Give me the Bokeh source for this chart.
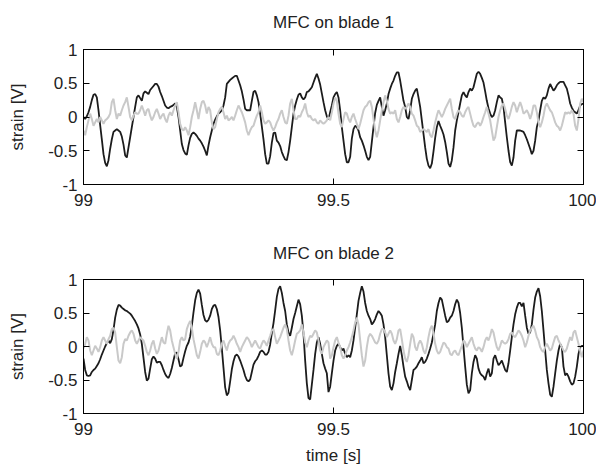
import numpy as np
from bokeh.plotting import figure
from bokeh.layouts import column
from bokeh.models import Range1d, FixedTicker, LinearAxis
from bokeh.embed import file_html
from bokeh.resources import INLINE

# ---------------- data ----------------
# sampling grid: 301 samples between 99 s and 100 s
time_s = np.linspace(99.0, 100.0, 301)

blade1_dark = [
    0.00, -0.03, 0.01, 0.07, 0.15, 0.25, 0.33, 0.34, 0.29, 0.10,
    -0.12, -0.33, -0.55, -0.68, -0.73, -0.64, -0.47, -0.33, -0.22, -0.20,
    -0.18, -0.20, -0.22, -0.29, -0.41, -0.57, -0.60, -0.45, -0.30, -0.15,
    0.00, 0.15, 0.29, 0.32, 0.28, 0.24, 0.35, 0.38, 0.36, 0.34,
    0.40, 0.43, 0.46, 0.49, 0.49, 0.45, 0.37, 0.31, 0.24, 0.17,
    0.14, 0.13, 0.15, 0.16, 0.18, 0.20, 0.15, 0.00, -0.20, -0.40,
    -0.49, -0.54, -0.56, -0.42, -0.31, -0.25, -0.23, -0.25, -0.28, -0.32,
    -0.35, -0.39, -0.44, -0.50, -0.57, -0.42, -0.30, -0.20, -0.10, -0.04,
    0.01, 0.05, 0.07, 0.10, 0.17, 0.29, 0.49, 0.52, 0.55, 0.57,
    0.59, 0.61, 0.61, 0.54, 0.47, 0.38, 0.26, 0.12, 0.10, 0.10,
    0.10, 0.24, 0.37, 0.39, 0.32, 0.22, 0.05, -0.14, -0.33, -0.55,
    -0.69, -0.69, -0.58, -0.38, -0.24, -0.23, -0.35, -0.38, -0.43, -0.52,
    -0.58, -0.63, -0.64, -0.52, -0.35, -0.15, 0.05, 0.17, 0.26, 0.33,
    0.35, 0.29, 0.26, 0.29, 0.37, 0.38, 0.41, 0.44, 0.51, 0.58,
    0.64, 0.57, 0.48, 0.35, 0.22, 0.10, 0.01, -0.04,
    0.07, 0.17, 0.29, 0.34, 0.37, 0.29, 0.10, -0.15, -0.35, -0.55,
    -0.67, -0.67, -0.59, -0.32, -0.18, -0.13, -0.15, -0.20, -0.30, -0.35,
    -0.42, -0.50, -0.59, -0.64, -0.59, -0.37, -0.15, 0.06, 0.18, 0.24,
    0.29, 0.15, 0.02, 0.10, 0.20, 0.34, 0.42, 0.49, 0.54, 0.61,
    0.66, 0.66, 0.54, 0.39, 0.24, 0.15, 0.00, -0.03, 0.10, 0.27,
    0.34, 0.39, 0.42, 0.29, 0.15, -0.05, -0.25, -0.45, -0.62, -0.72,
    -0.76, -0.69, -0.51, -0.31, -0.15, -0.06, -0.13, -0.19, -0.26, -0.37,
    -0.52, -0.69, -0.74, -0.64, -0.45, -0.20, -0.05, 0.07, 0.20, 0.32,
    0.37, 0.32, 0.29, 0.37, 0.42, 0.39, 0.44, 0.54, 0.64, 0.67,
    0.64, 0.58, 0.51, 0.38, 0.24, 0.13, 0.05, 0.00, 0.02, 0.10,
    0.22, 0.32, 0.29, 0.27, 0.15, -0.08, -0.30, -0.50, -0.67, -0.72,
    -0.60, -0.35, -0.20, -0.20, -0.20, -0.21, -0.22, -0.27, -0.33, -0.40,
    -0.47, -0.55, -0.50, -0.35, -0.15, -0.05, 0.10, 0.24, 0.29, 0.27,
    0.32, 0.42, 0.49, 0.44, 0.39, 0.42, 0.47, 0.50, 0.52, 0.52,
    0.52, 0.47, 0.42, 0.32, 0.20, 0.14, 0.09, 0.07, 0.05, 0.10,
    0.17, 0.19, 0.20,
]

blade1_gray = [
    -0.20, -0.27, -0.15, -0.05, 0.05, -0.03, -0.13, -0.08, -0.03, -0.08,
    0.00, -0.05, -0.10, -0.05, -0.03, 0.00, 0.05, 0.22, 0.27, 0.10,
    -0.03, 0.05, 0.02, 0.10, 0.17, 0.22, 0.29, 0.15, 0.00, -0.05,
    0.02, 0.07, 0.05, 0.05, 0.10, 0.17, 0.10, 0.02, 0.10, 0.12,
    0.02, -0.05, 0.00, 0.07, 0.12, 0.05, -0.03, 0.02, 0.05, -0.03,
    -0.08, 0.02, 0.07, 0.02, 0.10, 0.17, 0.22, 0.07, -0.10, -0.18,
    -0.20, -0.15, -0.20, -0.27, -0.15, 0.00, 0.10, 0.22, 0.10, -0.03,
    0.12, 0.22, 0.24, 0.17, 0.05, 0.15, 0.10, -0.08, -0.18, -0.15,
    -0.03, 0.07, 0.12, 0.15, 0.07, -0.03, 0.02, -0.05, -0.03, 0.00,
    -0.05, 0.02, 0.10, 0.17, 0.12, 0.07, 0.00, -0.08, -0.20, -0.27,
    -0.20, -0.15, -0.13, -0.05, 0.02, 0.07, 0.17, 0.07, -0.05, -0.10,
    -0.08, -0.05, -0.08, -0.15, -0.20, -0.15, -0.08, -0.03, 0.05, 0.10,
    0.00, -0.08, -0.10, 0.02, 0.20, 0.27, 0.10, -0.03, -0.03, 0.02,
    0.00, 0.07, 0.12, 0.20, 0.07, 0.00, 0.02, -0.03, -0.05, -0.03,
    -0.08, -0.10, -0.05, -0.08, -0.10, -0.08, -0.05, 0.00,
    -0.05, 0.07, 0.20, 0.29, 0.24, 0.05, -0.10, -0.15, -0.03, 0.07,
    0.05, -0.03, -0.08, 0.00, 0.05, -0.03, -0.10, -0.18, -0.10, 0.00,
    0.10, 0.15, 0.17, 0.22, 0.24, 0.15, -0.03, -0.20, -0.30, -0.20,
    -0.05, 0.10, 0.22, 0.32, 0.24, 0.12, 0.05, 0.07, 0.05, 0.10,
    -0.03, -0.08, 0.00, 0.10, 0.15, 0.12, 0.15, 0.20, 0.15, 0.05,
    0.02, -0.05, -0.13, -0.15, -0.22, -0.20, -0.18, -0.20, -0.22, -0.18,
    -0.27, -0.30, -0.20, -0.08, 0.02, 0.10, 0.05, 0.00, 0.05, 0.12,
    0.17, 0.22, 0.27, 0.12, 0.00, -0.03, 0.05, 0.10, 0.07, 0.02,
    0.00, 0.07, 0.12, 0.15, 0.05, -0.05, -0.13, -0.15, -0.10, -0.08,
    -0.13, -0.08, 0.00, 0.07, 0.15, 0.05, -0.05, -0.20, -0.35, -0.30,
    -0.15, 0.00, 0.10, 0.17, 0.20, 0.12, 0.02, -0.03, 0.05, 0.15,
    0.22, 0.17, 0.07, 0.15, 0.22, 0.15, 0.05, 0.07, 0.10, 0.05,
    -0.03, 0.05, 0.17, 0.17, 0.07, -0.08, -0.15, -0.08, 0.02, 0.15,
    0.20, 0.15, 0.10, 0.07, 0.00, -0.08, -0.13, -0.15, -0.20, -0.13,
    -0.03, 0.07, 0.05, 0.07, 0.05, 0.10, 0.05, -0.13, -0.20, -0.03,
    0.20, 0.27, 0.22,
]

blade2_dark = [
    -0.18, -0.35, -0.43, -0.44, -0.43, -0.38, -0.35, -0.33, -0.29, -0.25,
    -0.19, -0.12, -0.06, 0.00, 0.05, 0.09, 0.05, 0.11, 0.25, 0.43,
    0.55, 0.62, 0.61, 0.58, 0.56, 0.54, 0.53, 0.51, 0.49, 0.46,
    0.42, 0.38, 0.33, 0.27, 0.18, 0.04, -0.17, -0.38, -0.51, -0.48,
    -0.33, -0.19, -0.15, -0.18, -0.24, -0.23, -0.23, -0.28, -0.35, -0.41,
    -0.45, -0.47, -0.41, -0.32, -0.21, -0.10, -0.09, -0.19, -0.30, -0.28,
    -0.17, -0.07, 0.01, 0.06, 0.15, 0.31, 0.51, 0.69, 0.80, 0.85,
    0.79, 0.62, 0.47, 0.39, 0.37, 0.40, 0.46, 0.56, 0.61, 0.62,
    0.56, 0.44, 0.24, -0.03, -0.32, -0.61, -0.73, -0.69, -0.52, -0.34,
    -0.22, -0.14, -0.12, -0.15, -0.21, -0.28, -0.35, -0.44, -0.50, -0.52,
    -0.49, -0.38, -0.27, -0.22, -0.19, -0.14, -0.08, -0.06, -0.08, -0.12,
    -0.12, -0.08, 0.03, 0.20, 0.35, 0.54, 0.74, 0.86, 0.90, 0.80,
    0.65, 0.53, 0.33, 0.21, 0.16, 0.28, 0.41, 0.50, 0.60, 0.70,
    0.63, 0.46, 0.19, -0.21, -0.55, -0.77, -0.79, -0.57, -0.35, -0.11,
    0.06, 0.14, 0.04, -0.11, -0.25, -0.33, -0.40, -0.68,
    -0.60, -0.40, -0.21, -0.06, 0.01, 0.04, -0.01, -0.06, -0.03, -0.11,
    -0.16, -0.13, -0.16, -0.06, 0.09, 0.28, 0.48, 0.68, 0.80, 0.90,
    0.82, 0.65, 0.53, 0.46, 0.41, 0.33, 0.36, 0.41, 0.48, 0.53,
    0.50, 0.46, 0.33, 0.14, -0.13, -0.40, -0.60, -0.65, -0.55, -0.38,
    -0.25, -0.11, 0.01, -0.13, -0.30, -0.45, -0.52, -0.60, -0.65, -0.50,
    -0.35, -0.33, -0.30, -0.25, -0.21, -0.16, -0.25, -0.23, -0.18, -0.11,
    -0.03, 0.06, 0.19, 0.33, 0.53, 0.65, 0.73, 0.70, 0.58, 0.46,
    0.36, 0.38, 0.43, 0.46, 0.53, 0.63, 0.70, 0.65, 0.50, 0.28,
    -0.01, -0.30, -0.57, -0.70, -0.65, -0.40, -0.23, -0.13, -0.18, -0.33,
    -0.40, -0.43, -0.45, -0.50, -0.40, -0.33, -0.45, -0.40, -0.18, -0.13,
    -0.21, -0.28, -0.25, -0.21, -0.28, -0.35, -0.38, -0.25, -0.06, 0.14,
    0.33, 0.48, 0.58, 0.65, 0.65, 0.60, 0.65, 0.46, 0.28, 0.19,
    0.21, 0.33, 0.55, 0.73, 0.82, 0.87, 0.75, 0.53, 0.24, -0.06,
    -0.35, -0.55, -0.72, -0.75, -0.60, -0.40, -0.21, -0.06, 0.04, -0.01,
    -0.30, -0.43, -0.40, -0.45, -0.52, -0.57, -0.55, -0.45, -0.30, -0.11,
    -0.01, 0.01, 0.01,
]

blade2_gray = [
    -0.03, 0.04, 0.14, 0.09, -0.06, -0.13, -0.06, 0.01, -0.03, -0.08,
    -0.01, 0.09, 0.14, 0.09, 0.04, 0.11, 0.16, 0.26, 0.28, 0.21,
    -0.01, -0.21, -0.25, -0.16, 0.04, 0.11, 0.09, 0.16, 0.21, 0.24,
    0.19, 0.09, 0.04, 0.09, 0.14, 0.11, 0.09, 0.01, -0.08, -0.13,
    -0.06, 0.04, 0.09, -0.03, -0.11, -0.06, 0.04, 0.14, 0.06, 0.04,
    0.19, 0.31, 0.24, 0.09, -0.01, -0.11, -0.18, -0.08, 0.09, 0.14,
    0.09, 0.11, 0.26, 0.33, 0.38, 0.28, 0.11, -0.01, -0.13, -0.18,
    -0.08, 0.04, 0.09, 0.06, -0.01, 0.06, 0.14, 0.04, -0.01, -0.01,
    -0.11, -0.13, -0.06, 0.04, 0.09, 0.01, -0.06, 0.04, 0.09, 0.11,
    0.16, 0.11, 0.04, -0.01, -0.08, -0.01, 0.04, 0.09, 0.14, 0.11,
    0.06, -0.01, 0.04, 0.09, 0.04, -0.01, -0.03, 0.04, 0.09, 0.06,
    0.01, 0.09, 0.16, 0.24, 0.26, 0.14, 0.04, 0.09, 0.14, 0.21,
    0.28, 0.33, 0.26, 0.09, -0.06, -0.13, -0.03, 0.09, 0.19, 0.21,
    0.24, 0.33, 0.21, 0.06, -0.01, 0.09, 0.16, 0.14, 0.19, 0.24,
    0.21, 0.09, -0.06, -0.11, -0.01, 0.04, 0.09, 0.06,
    -0.18, -0.13, -0.01, 0.09, 0.14, 0.06, -0.01, -0.13, -0.18, -0.13,
    -0.06, -0.01, 0.06, 0.14, 0.24, 0.36, 0.43, 0.33, 0.09, -0.13,
    -0.30, -0.21, -0.01, 0.14, 0.19, 0.16, 0.11, 0.06, 0.04, 0.09,
    0.19, 0.26, 0.26, 0.21, 0.14, 0.19, 0.24, 0.19, 0.09, 0.04,
    0.11, 0.24, 0.26, 0.11, -0.06, -0.18, -0.23, -0.13, 0.04, 0.19,
    0.14, -0.01, -0.06, 0.04, 0.09, 0.04, -0.06, -0.11, -0.01, 0.14,
    0.26, 0.31, 0.19, 0.04, -0.06, -0.11, -0.08, -0.01, 0.06, 0.04,
    -0.01, -0.03, -0.11, -0.13, -0.08, -0.06, -0.11, -0.13, -0.06, 0.01,
    0.09, 0.06, -0.01, 0.04, 0.09, 0.14, 0.04, -0.03, -0.06, -0.01,
    -0.03, -0.08, -0.01, 0.09, 0.14, 0.09, 0.16, 0.26, 0.21, 0.09,
    -0.01, -0.06, 0.01, 0.09, 0.06, 0.04, 0.06, 0.11, 0.19, 0.21,
    0.16, 0.14, 0.19, 0.24, 0.21, 0.16, 0.09, -0.01, 0.06, 0.16,
    0.24, 0.28, 0.31, 0.24, 0.14, 0.09, -0.01, -0.06, -0.08, -0.01,
    0.04, -0.01, -0.06, -0.03, 0.06, 0.14, 0.16, 0.09, 0.04, -0.01,
    -0.06, -0.08, -0.03, 0.06, 0.14, 0.09, 0.21, 0.24, 0.14, 0.04,
    -0.06, -0.16, -0.06,
]

x_ticks = [99, 99.5, 100]
x_tick_labels = ["99", "99.5", "100"]
y_ticks = [-1, -0.5, 0, 0.5, 1]
y_tick_labels = ["-1", "-0.5", "0", "0.5", "1"]

titles = ["MFC on blade 1", "MFC on blade 2"]
y_label = "strain [V]"
x_label = "time [s]"

# ---------------- styling ----------------
FONT = "Liberation Sans"
FS = "17px"
TXT = "#222222"
DARK = "#1c1c1c"
GRAY = "#c9c9c9"


def style_axis(ax, ticks, labels, show_labels=True):
    ax.ticker = FixedTicker(ticks=ticks)
    ax.minor_tick_line_color = None
    ax.major_tick_in = 6
    ax.major_tick_out = 0
    ax.major_tick_line_color = "black"
    ax.axis_line_color = "black"
    ax.major_label_text_font = FONT
    ax.axis_label_text_font = FONT
    ax.axis_label_text_font_size = FS
    ax.axis_label_text_font_style = "normal"
    ax.axis_label_text_color = TXT
    if show_labels:
        ax.major_label_overrides = {t: s for t, s in zip(ticks, labels)}
        ax.major_label_text_font_size = FS
        ax.major_label_text_color = TXT
    else:
        # tick marks only (MATLAB box), no tick labels drawn
        ax.major_label_text_font_size = "1px"
        ax.major_label_text_color = None
        ax.major_label_standoff = 0


def make_panel(title, dark, gray, height, b_top, b_bottom, with_xlabel,
               title_gap):
    n = min(len(dark), len(gray), len(time_s))
    p = figure(width=596, height=height, output_backend="svg",
               toolbar_location=None,
               x_range=Range1d(99, 100), y_range=Range1d(-1, 1),
               min_border_left=83, min_border_right=13,
               min_border_top=b_top, min_border_bottom=b_bottom)
    p.background_fill_color = "white"
    p.border_fill_color = "white"
    p.outline_line_color = "black"
    p.grid.visible = False

    p.line(time_s[:n], dark[:n], line_color=DARK, line_width=1.8)
    p.line(time_s[:n], gray[:n], line_color=GRAY, line_width=2.0)

    xa = p.xaxis[0]
    style_axis(xa, x_ticks, x_tick_labels)
    xa.major_label_standoff = 9
    ya = p.yaxis[0]
    style_axis(ya, y_ticks, y_tick_labels)
    ya.major_label_standoff = 6
    ya.axis_label = y_label
    ya.axis_label_standoff = 18
    if with_xlabel:
        xa.axis_label = x_label
        xa.axis_label_standoff = 8

    # top axis: MATLAB box ticks, and carries the subplot title
    top_ax = LinearAxis()
    style_axis(top_ax, x_ticks, x_tick_labels, show_labels=False)
    top_ax.axis_label = title
    top_ax.axis_label_standoff = title_gap
    p.add_layout(top_ax, "above")
    right_ax = LinearAxis()
    style_axis(right_ax, y_ticks, y_tick_labels, show_labels=False)
    p.add_layout(right_ax, "right")
    return p


p1 = make_panel(titles[0], blade1_dark, blade1_gray, 230, 49, 46, False, 18)
p2 = make_panel(titles[1], blade2_dark, blade2_gray, 238, 49, 55, True, 17)
p2.frame_height = 134

layout = column(p1, p2, spacing=0)
open("out.html", "w").write(file_html(layout, INLINE))
